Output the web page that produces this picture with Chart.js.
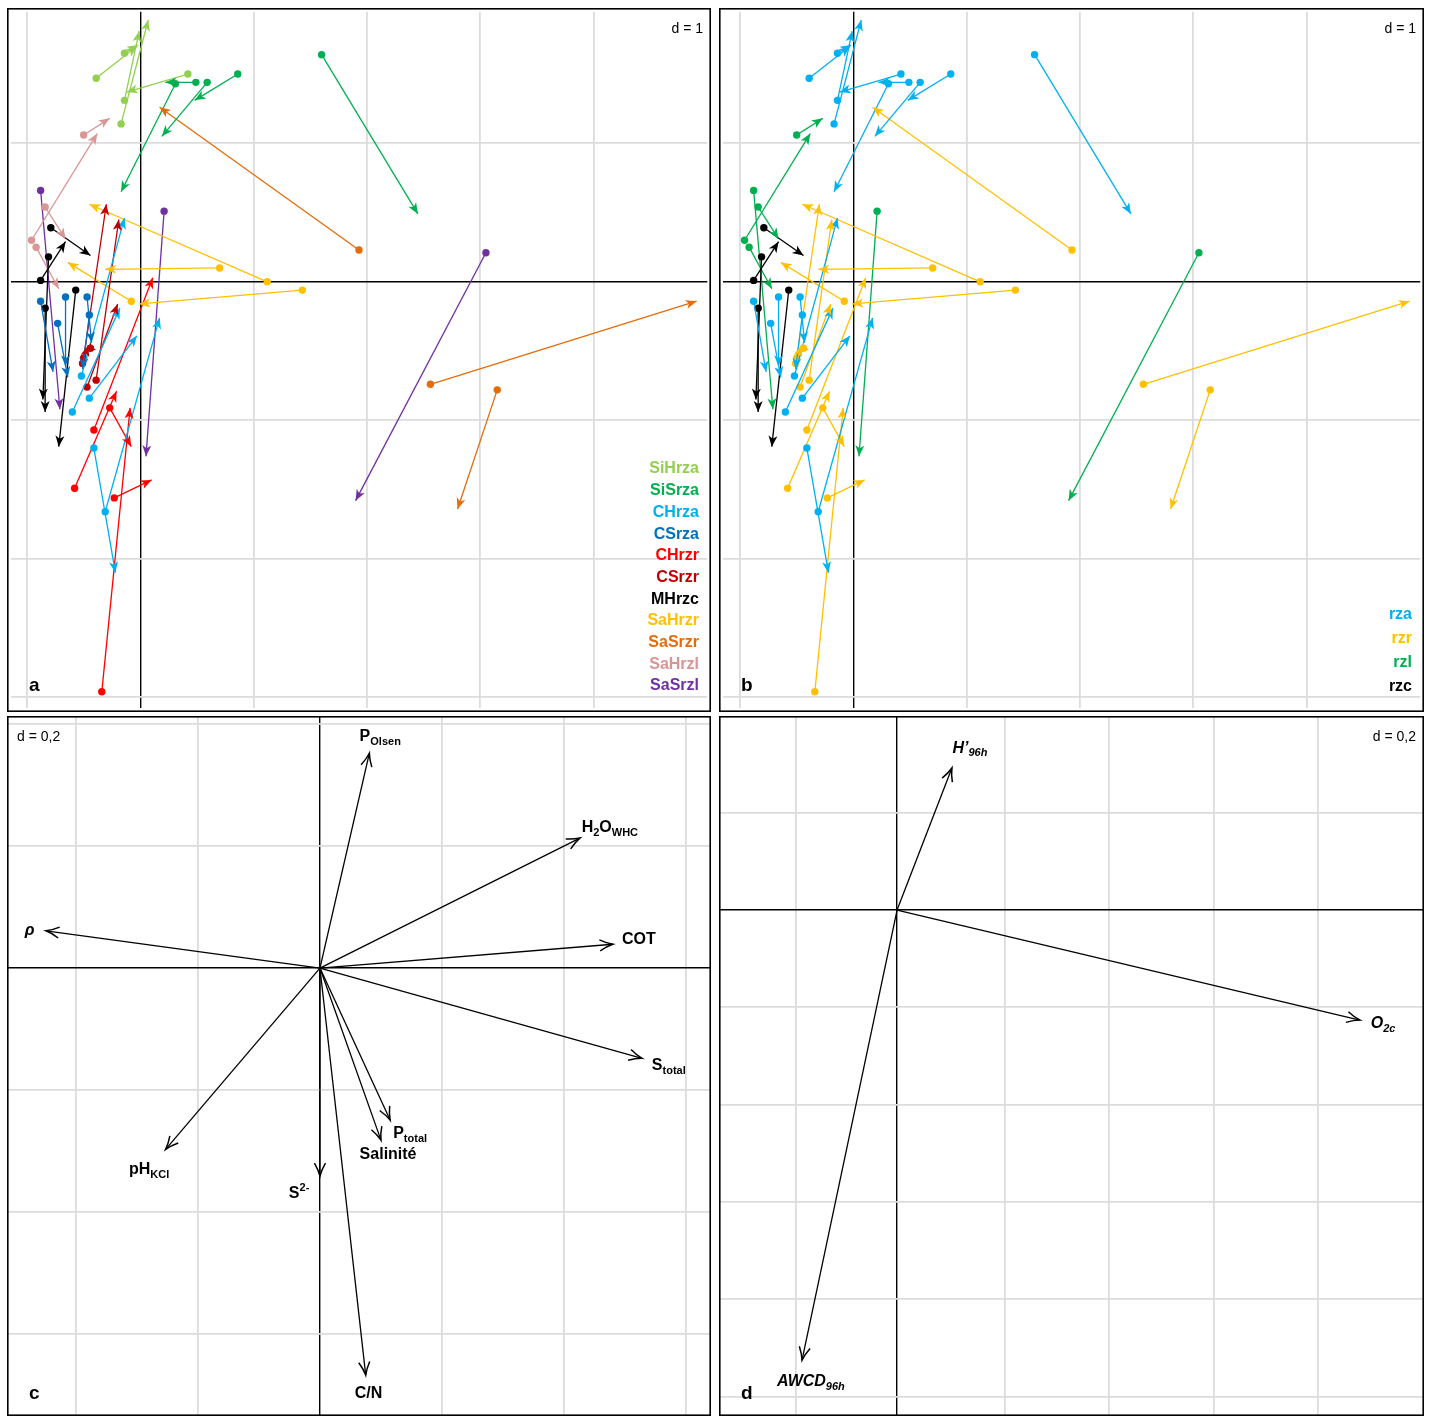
<!DOCTYPE html>
<html>
<head>
<meta charset="utf-8">
<script src="https://cdn.jsdelivr.net/npm/chart.js@4.4.1/dist/chart.umd.min.js"></script>
<style>
  html, body { margin: 0; padding: 0; background: #fff; }
  body { width: 1431px; height: 1416px; position: relative; overflow: hidden; }
  canvas { position: absolute; }
</style>
</head>
<body>
<canvas id="panel-a" width="704" height="704" style="left:7px;top:8px"></canvas>
<canvas id="panel-b" width="705" height="704" style="left:719px;top:8px"></canvas>
<canvas id="panel-c" width="704" height="700" style="left:7px;top:716px"></canvas>
<canvas id="panel-d" width="705" height="700" style="left:719px;top:716px"></canvas>
<script>
const FONT = '"Liberation Sans", Arial, sans-serif';

// groupes (panneau a)
const groups = ['SiHrza', 'SiSrza', 'CHrza', 'CSrza', 'CHrzr', 'CSrzr', 'MHrzc', 'SaHrzr', 'SaSrzr', 'SaHrzl', 'SaSrzl'];
const groupColors = ['#92D050', '#00B050', '#00B0F0', '#0070C0', '#FF0000', '#C00000', '#000000', '#FFC000', '#E46C0A', '#D99694', '#7030A0'];
// zone de chaque groupe (panneau b)
const groupZone = [0, 0, 0, 0, 1, 1, 3, 1, 1, 2, 2];
const zones = ['rza', 'rzr', 'rzl', 'rzc'];
const zoneColors = ['#00B0F0', '#FFC000', '#00B050', '#000000'];

// flèches : origine (startX, startY) -> extrémité (endX, endY), une ligne par groupe
const startX = [
    [-0.39, -0.14, 0.42, -0.14, -0.17],
    [1.60, 0.86, 0.59, 0.49, 0.31],
    [-0.52, -0.45, -0.60, -0.41, -0.31],
    [-0.88, -0.66, -0.73, -0.47, -0.45],
    [-0.34, -0.23, -0.27, -0.58, -0.41],
    [-0.50, -0.39, -0.47, -0.44, -0.51],
    [-0.79, -0.88, -0.81, -0.84, -0.57],
    [0.70, 1.12, 1.43, -0.08],
    [1.93, 2.56, 3.15],
    [-0.50, -0.96, -0.84, -0.92],
    [-0.88, 0.21, 3.05]
];
const startY = [
    [1.47, 1.65, 1.50, 1.31, 1.14],
    [1.64, 1.50, 1.44, 1.44, 1.43],
    [-0.68, -0.84, -0.94, -1.20, -1.66],
    [-0.14, -0.11, -0.30, -0.11, -0.24],
    [-2.96, -1.56, -0.91, -1.49, -1.07],
    [-0.55, -0.71, -0.76, -0.48, -0.59],
    [0.39, 0.01, 0.18, -0.19, -0.06],
    [0.10, 0.00, -0.06, -0.14],
    [0.23, -0.74, -0.78],
    [1.06, 0.30, 0.54, 0.25],
    [0.66, 0.51, 0.21]
];
const endX = [
    [-0.03, -0.02, -0.12, -0.01, 0.07],
    [2.45, 0.48, 0.19, 0.22, -0.17],
    [-0.14, -0.03, -0.18, -0.22, 0.17],
    [-0.77, -0.66, -0.64, -0.43, -0.51],
    [-0.09, 0.10, -0.08, -0.21, 0.11],
    [-0.30, -0.19, -0.20, -0.49, -0.46],
    [-0.44, -0.66, -0.86, -0.84, -0.72],
    [-0.31, -0.45, -0.01, -0.64],
    [0.17, 4.91, 2.80],
    [-0.27, -0.38, -0.66, -0.72],
    [-0.71, 0.05, 1.90]
];
const endY = [
    [1.70, 1.71, 1.37, 1.81, 1.89],
    [0.49, 1.31, 1.05, 1.44, 0.65],
    [0.46, -0.39, -0.19, -2.10, -0.26],
    [-0.65, -0.61, -0.69, -0.44, -0.63],
    [-0.91, -1.43, -1.19, -0.79, 0.03],
    [0.56, 0.45, -0.16, -0.51, -0.46],
    [0.19, 0.29, -0.85, -0.94, -1.19],
    [0.09, 0.56, -0.16, 0.14],
    [1.26, -0.14, -1.64],
    [1.18, 1.07, 0.31, -0.05],
    [-0.92, -1.26, -1.58]
];

// variables environnementales (panneau c)
const envLabels = [
    [['P', ''], ['Olsen', 'sub']],
    [['H', ''], ['2', 'sub'], ['O', ''], ['WHC', 'sub']],
    [['COT', '']],
    [['ρ', 'it']],
    [['S', ''], ['total', 'sub']],
    [['P', ''], ['total', 'sub']],
    [['Salinité', '']],
    [['S', ''], ['2-', 'sup']],
    [['C/N', '']],
    [['pH', ''], ['KCl', 'sub']]
];
const envX = [0.081, 0.426, 0.480, -0.449, 0.528, 0.115, 0.100, 0.000, 0.075, -0.253];
const envY = [0.352, 0.213, 0.039, 0.061, -0.148, -0.249, -0.282, -0.341, -0.667, -0.297];
const envLabelX = [0.065, 0.429, 0.495, -0.484, 0.544, 0.120, 0.065, -0.051, 0.057, -0.313];
const envLabelY = [0.379, 0.230, 0.047, 0.062, -0.160, -0.272, -0.305, -0.369, -0.697, -0.330];

// variables biologiques (panneau d)
const bioLabels = [
    [['H’', ''], ['96h', 'sub']],
    [['O', ''], ['2c', 'sub']],
    [['AWCD', ''], ['96h', 'sub']]
];
const bioX = [0.105, 0.886, -0.182];
const bioY = [0.292, -0.226, -0.925];
const bioLabelX = [0.106, 0.907, -0.230];
const bioLabelY = [0.333, -0.234, -0.969];

// quadrillage
const gridAX = [-1, 0, 1, 2, 3, 4];
const gridAY = [-3, -2, -1, 0, 1];
const gridCX = [-0.4, -0.2, 0, 0.2, 0.4, 0.6];
const gridCY = [-0.6, -0.4, -0.2, 0, 0.2, 0.4];
const gridDX = [-0.193, 0, 0.207, 0.406, 0.607, 0.806];
const gridDY = [-1.0, -0.8, -0.6, -0.4, -0.2, 0, 0.2];

// échelles sans graduations, axes 0 en noir
function makeScales(xMin, xMax, yMin, yMax, xTicks, yTicks) {
    const axis = (min, max, ticks, horizontal) => ({
        type: 'linear',
        min: min,
        max: max,
        afterBuildTicks: s => { s.ticks = ticks.map(v => ({ value: v })); },
        afterFit: s => { if (horizontal) { s.height = 0; } else { s.width = 0; } },
        ticks: { display: false },
        border: { display: false },
        grid: {
            drawTicks: false,
            color: c => (c.tick && Math.abs(c.tick.value) < 1e-9) ? '#000000' : '#dcdcdc',
            lineWidth: c => (c.tick && Math.abs(c.tick.value) < 1e-9) ? 1.4 : 1.8
        }
    });
    return { x: axis(xMin, xMax, xTicks, true), y: axis(yMin, yMax, yTicks, false) };
}

// jeux de données des flèches (panneaux a et b)
function arrowDatasets(colorOf) {
    const sets = [];
    groups.forEach((g, gi) => {
        startX[gi].forEach((x0, k) => {
            const col = colorOf(gi);
            sets.push({
                label: g,
                data: [{ x: x0, y: startY[gi][k] }, { x: endX[gi][k], y: endY[gi][k] }],
                showLine: true,
                borderColor: col,
                borderWidth: 1.3,
                pointRadius: [3.7, 0],
                pointHoverRadius: 0,
                pointBackgroundColor: col,
                pointBorderWidth: 0,
                head: 'filled'
            });
        });
    });
    return sets;
}

// jeux de données des vecteurs (panneaux c et d)
function vectorDatasets(xs, ys) {
    return xs.map((x, i) => ({
        data: [{ x: 0, y: 0 }, { x: x, y: ys[i] }],
        showLine: true,
        borderColor: '#000000',
        borderWidth: 1.3,
        pointRadius: 0,
        pointHoverRadius: 0,
        head: 'open'
    }));
}

// pointes de flèches
const arrowPlugin = {
    id: 'arrowHeads',
    afterDatasetsDraw(chart) {
        const ctx = chart.ctx;
        chart.data.datasets.forEach((ds, i) => {
            const meta = chart.getDatasetMeta(i);
            if (!ds.head || meta.data.length < 2) return;
            const a = meta.data[0];
            const b = meta.data[meta.data.length - 1];
            const ang = Math.atan2(b.y - a.y, b.x - a.x);
            ctx.save();
            ctx.translate(b.x, b.y);
            ctx.rotate(ang);
            ctx.beginPath();
            if (ds.head === 'filled') {
                ctx.moveTo(0, 0);
                ctx.lineTo(-11, -4.5);
                ctx.lineTo(-8, 0);
                ctx.lineTo(-11, 4.5);
                ctx.closePath();
                ctx.fillStyle = ds.borderColor;
                ctx.fill();
            } else {
                ctx.moveTo(-13, -5.5);
                ctx.quadraticCurveTo(-6, -1.5, 0, 0);
                ctx.quadraticCurveTo(-6, 1.5, -13, 5.5);
                ctx.strokeStyle = ds.borderColor;
                ctx.lineWidth = 1.5;
                ctx.stroke();
            }
            ctx.restore();
        });
    }
};

// texte avec indices / exposants
function drawRich(ctx, parts, x, y, size, italic) {
    parts.forEach(([txt, kind]) => {
        const small = kind === 'sub' || kind === 'sup';
        const sz = small ? Math.round(size * 0.68) : size;
        const dy = kind === 'sub' ? size * 0.32 : (kind === 'sup' ? -size * 0.3 : 0);
        const it = (italic || kind === 'it') ? 'italic ' : '';
        ctx.font = it + 'bold ' + sz + 'px ' + FONT;
        ctx.fillText(txt, x, y + dy);
        x += ctx.measureText(txt).width;
    });
}

// cadre, échelle, lettre, légende, étiquettes
function decor(opts) {
    return {
        id: 'decor',
        afterDraw(chart) {
            const ctx = chart.ctx;
            const w = chart.width, h = chart.height;
            ctx.save();
            ctx.strokeStyle = '#000000';
            ctx.lineWidth = 1.6;
            ctx.strokeRect(0.8, 0.8, w - 1.6, h - 1.6);

            ctx.fillStyle = '#000000';
            ctx.textBaseline = 'middle';
            ctx.font = '14px ' + FONT;
            ctx.textAlign = opts.noteAlign;
            ctx.fillText(opts.note, opts.noteAlign === 'right' ? w - 8 : 10, 21);

            ctx.textAlign = 'left';
            ctx.font = 'bold 19px ' + FONT;
            ctx.fillText(opts.letter, 22, 678);

            if (opts.legend) {
                ctx.textAlign = 'right';
                ctx.font = 'bold 16px ' + FONT;
                opts.legend.names.forEach((name, i) => {
                    ctx.fillStyle = opts.legend.colors[i];
                    ctx.fillText(name, w - opts.legend.right, opts.legend.top + i * opts.legend.step);
                });
            }

            if (opts.labels) {
                ctx.textAlign = 'left';
                ctx.fillStyle = '#000000';
                const sx = chart.scales.x, sy = chart.scales.y;
                opts.labels.parts.forEach((parts, i) => {
                    drawRich(ctx, parts, sx.getPixelForValue(opts.labels.x[i]),
                        sy.getPixelForValue(opts.labels.y[i]), 16, opts.labels.italic);
                });
            }
            ctx.restore();
        }
    };
}

const baseOptions = scales => ({
    responsive: false,
    animation: false,
    devicePixelRatio: 1,
    events: [],
    layout: { padding: 0 },
    plugins: { legend: { display: false }, tooltip: { enabled: false } },
    elements: { line: { tension: 0 } },
    scales: scales
});

// panneau a : par groupe
new Chart(document.getElementById('panel-a'), {
    type: 'scatter',
    data: { datasets: arrowDatasets(gi => groupColors[gi]) },
    options: baseOptions(makeScales(-1.144, 5.004, -3.079, 1.95, gridAX, gridAY)),
    plugins: [arrowPlugin, decor({
        note: 'd = 1', noteAlign: 'right', letter: 'a',
        legend: { names: groups, colors: groupColors, right: 12, top: 461, step: 21.7 }
    })]
});

// panneau b : par zone
new Chart(document.getElementById('panel-b'), {
    type: 'scatter',
    data: { datasets: arrowDatasets(gi => zoneColors[groupZone[gi]]) },
    options: baseOptions(makeScales(-1.153, 5.004, -3.079, 1.95, gridAX, gridAY)),
    plugins: [arrowPlugin, decor({
        note: 'd = 1', noteAlign: 'right', letter: 'b',
        legend: { names: zones, colors: zoneColors, right: 12, top: 607, step: 24 }
    })]
});

// panneau c : variables environnementales
new Chart(document.getElementById('panel-c'), {
    type: 'scatter',
    data: { datasets: vectorDatasets(envX, envY) },
    options: baseOptions(makeScales(-0.513, 0.641, -0.734, 0.413, gridCX, gridCY)),
    plugins: [arrowPlugin, decor({
        note: 'd = 0,2', noteAlign: 'left', letter: 'c',
        labels: { parts: envLabels, x: envLabelX, y: envLabelY, italic: false }
    })]
});

// panneau d : variables biologiques
new Chart(document.getElementById('panel-d'), {
    type: 'scatter',
    data: { datasets: vectorDatasets(bioX, bioY) },
    options: baseOptions(makeScales(-0.341, 1.009, -1.040, 0.399, gridDX, gridDY)),
    plugins: [arrowPlugin, decor({
        note: 'd = 0,2', noteAlign: 'right', letter: 'd',
        labels: { parts: bioLabels, x: bioLabelX, y: bioLabelY, italic: true }
    })]
});
</script>
</body>
</html>
